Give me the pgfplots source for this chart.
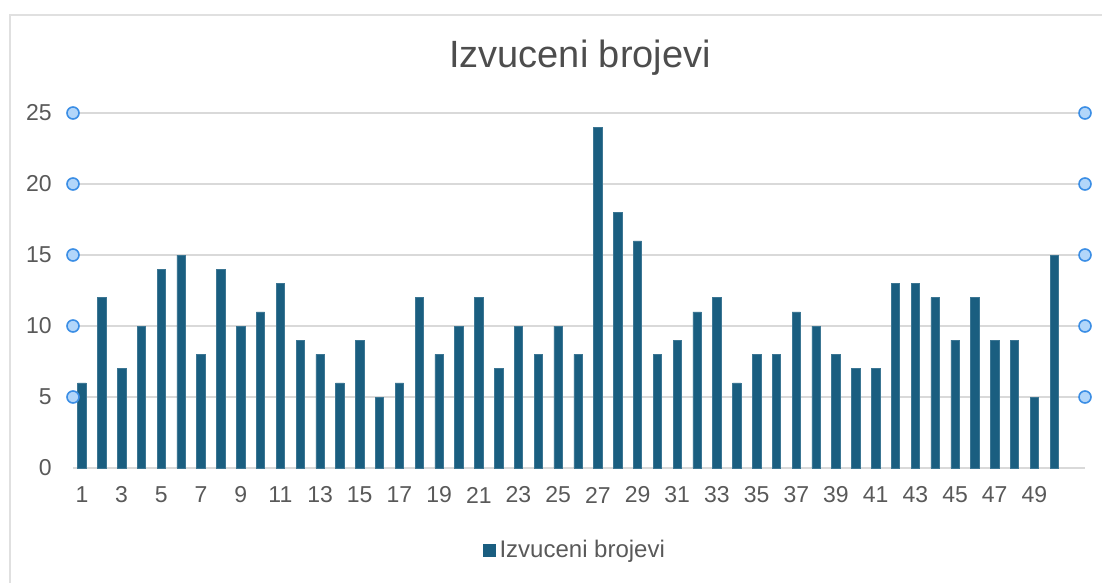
\documentclass[border=0pt]{standalone}
\usepackage{fontspec}
\setmainfont{Liberation Sans}
\usepackage{pgfplots}
\pgfplotsset{compat=1.18}
\definecolor{barcol}{RGB}{26,94,128}
\definecolor{gridcol}{RGB}{217,217,217}
\definecolor{txt}{RGB}{89,89,89}
\definecolor{titlecol}{RGB}{77,77,77}
\definecolor{hfill}{RGB}{178,214,250}
\definecolor{hdraw}{RGB}{59,142,229}
\definecolor{framecol}{RGB}{224,224,224}
\pgfplotstableread{
x y
1 6
2 12
3 7
4 10
5 14
6 15
7 8
8 14
9 10
10 11
11 13
12 9
13 8
14 6
15 9
16 5
17 6
18 12
19 8
20 10
21 12
22 7
23 10
24 8
25 10
26 8
27 24
28 18
29 16
30 8
31 9
32 11
33 12
34 6
35 8
36 8
37 11
38 10
39 8
40 7
41 7
42 13
43 13
44 12
45 9
46 12
47 9
48 9
49 5
50 15
}\datatable
\pgfplotstableread{
x y
0.55 5
0.55 10
0.55 15
0.55 20
0.55 25
51.55 5
51.55 10
51.55 15
51.55 20
51.55 25
}\handles
\begin{document}
\begin{tikzpicture}
\path[use as bounding box] (0,0) rectangle (551pt,-291.5pt);
\draw[framecol, line width=1pt] (5pt,-291.5pt) -- (5pt,-7.5pt) -- (551pt,-7.5pt);
\node[text=titlecol, font=\fontsize{19}{22}\selectfont] at (290pt,-29pt) {Izvuceni brojevi};
\begin{axis}[
  at={(36.5pt,-234pt)}, anchor=south west,
  scale only axis, width=506pt, height=177.5pt,
  xmin=0.55, xmax=51.55, ymin=0, ymax=25,
  axis line style={draw=none},
  major tick length=0pt,
  ymajorgrids, grid style={gridcol, line width=0.6pt},
  ytick={0,5,...,25},
  xtick={1,3,...,49},
  /pgf/number format/assume math mode=true,
  tick label style={text=txt, font=\fontsize{11.5}{13}\selectfont},
  yticklabel style={anchor=east, inner sep=0pt, xshift=-10.5pt},
  xticklabel style={anchor=center, inner sep=0pt, yshift=-13.5pt},
  clip=false,
  legend style={at={(0.497,-0.231)}, anchor=center, draw=none, fill=none,
    font=\fontsize{12}{14}\selectfont, text=txt, inner sep=0pt},
  legend image code/.code={\fill[barcol] (0pt,-3pt) rectangle (6pt,3pt);},
]
\addplot[ybar, bar width=4.2pt, fill=barcol, draw=barcol!85!white, line width=0.3pt] table[x=x,y=y] {\datatable};
\addlegendentry{Izvuceni brojevi}
\addplot[only marks, mark=*, mark size=3pt, mark options={fill=hfill, draw=hdraw, line width=0.8pt}, forget plot] table[x=x,y=y] {\handles};
\end{axis}
\end{tikzpicture}
\end{document}
